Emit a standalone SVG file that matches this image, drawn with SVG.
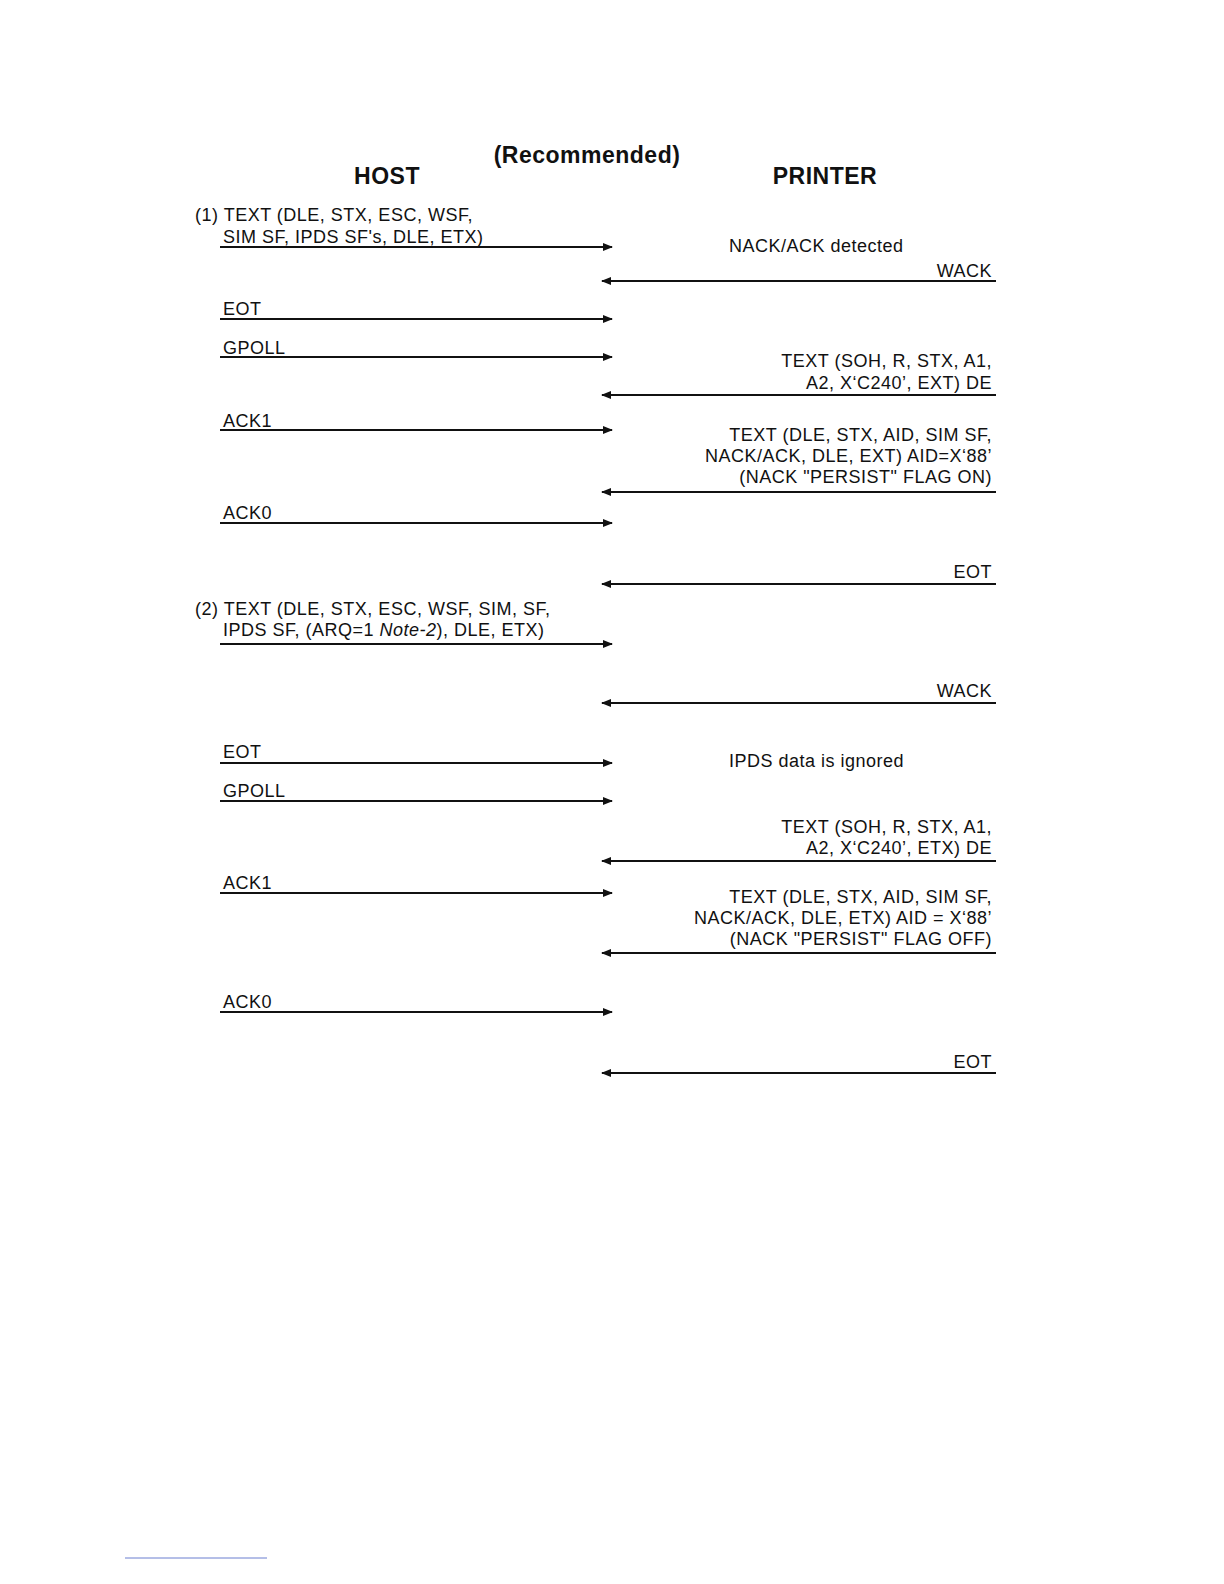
<svg xmlns="http://www.w3.org/2000/svg" width="1224" height="1584" viewBox="0 0 1224 1584">
<style>
text{font-family:"Liberation Sans",Arial,sans-serif;font-size:18px;letter-spacing:0.5px;fill:#111}
.h{font-weight:bold;font-size:23px;letter-spacing:0.5px;text-anchor:middle}
.r{text-anchor:end}
line.a{stroke:#111;stroke-width:2}
</style>
<defs>
<marker id="ah" markerWidth="10" markerHeight="8" refX="9" refY="4" orient="auto" markerUnits="userSpaceOnUse">
<path d="M0,0 L10,4 L0,8 Z" fill="#111"/>
</marker>
</defs>
<rect width="1224" height="1584" fill="#fff"/>
<g id="header">
<text class="h" x="587" y="163">(Recommended)</text>
<text class="h" x="387" y="184">HOST</text>
<text class="h" x="825" y="184">PRINTER</text>
</g>
<g id="labels">
<text x="195" y="221">(1) TEXT (DLE, STX, ESC, WSF,</text>
<text x="223" y="243">SIM SF, IPDS SF's, DLE, ETX)</text>
<text x="729" y="252">NACK/ACK detected</text>
<text class="r" x="992" y="277">WACK</text>
<text x="223" y="315">EOT</text>
<text x="223" y="354">GPOLL</text>
<text class="r" x="992" y="367">TEXT (SOH, R, STX, A1,</text>
<text class="r" x="992" y="389">A2, X‘C240’, EXT) DE</text>
<text x="223" y="427">ACK1</text>
<text class="r" x="992" y="441">TEXT (DLE, STX, AID, SIM SF,</text>
<text class="r" x="992" y="462">NACK/ACK, DLE, EXT) AID=X‘88’</text>
<text class="r" x="992" y="483">(NACK "PERSIST" FLAG ON)</text>
<text x="223" y="519">ACK0</text>
<text class="r" x="992" y="578">EOT</text>
<text x="195" y="615">(2) TEXT (DLE, STX, ESC, WSF, SIM, SF,</text>
<text x="223" y="636">IPDS SF, (ARQ=1 <tspan font-style="italic">Note-2</tspan>), DLE, ETX)</text>
<text class="r" x="992" y="697">WACK</text>
<text x="223" y="758">EOT</text>
<text x="729" y="767">IPDS data is ignored</text>
<text x="223" y="797">GPOLL</text>
<text class="r" x="992" y="833">TEXT (SOH, R, STX, A1,</text>
<text class="r" x="992" y="854">A2, X‘C240’, ETX) DE</text>
<text x="223" y="889">ACK1</text>
<text class="r" x="992" y="903">TEXT (DLE, STX, AID, SIM SF,</text>
<text class="r" x="992" y="924">NACK/ACK, DLE, ETX) AID = X‘88’</text>
<text class="r" x="992" y="945">(NACK "PERSIST" FLAG OFF)</text>
<text x="223" y="1008">ACK0</text>
<text class="r" x="992" y="1068">EOT</text>
</g>
<g id="connectors" marker-end="url(#ah)">
<line class="a" x1="220" y1="247" x2="612" y2="247"/>
<line class="a" x1="996" y1="281" x2="602" y2="281"/>
<line class="a" x1="220" y1="319" x2="612" y2="319"/>
<line class="a" x1="220" y1="357" x2="612" y2="357"/>
<line class="a" x1="996" y1="395" x2="602" y2="395"/>
<line class="a" x1="220" y1="430" x2="612" y2="430"/>
<line class="a" x1="996" y1="492" x2="602" y2="492"/>
<line class="a" x1="220" y1="523" x2="612" y2="523"/>
<line class="a" x1="996" y1="584" x2="602" y2="584"/>
<line class="a" x1="220" y1="644" x2="612" y2="644"/>
<line class="a" x1="996" y1="703" x2="602" y2="703"/>
<line class="a" x1="220" y1="763" x2="612" y2="763"/>
<line class="a" x1="220" y1="801" x2="612" y2="801"/>
<line class="a" x1="996" y1="861" x2="602" y2="861"/>
<line class="a" x1="220" y1="893" x2="612" y2="893"/>
<line class="a" x1="996" y1="953" x2="602" y2="953"/>
<line class="a" x1="220" y1="1012" x2="612" y2="1012"/>
<line class="a" x1="996" y1="1073" x2="602" y2="1073"/>
</g>
<line x1="125" y1="1558" x2="267" y2="1558" stroke="#6a7fd0" stroke-width="1"/>
</svg>
